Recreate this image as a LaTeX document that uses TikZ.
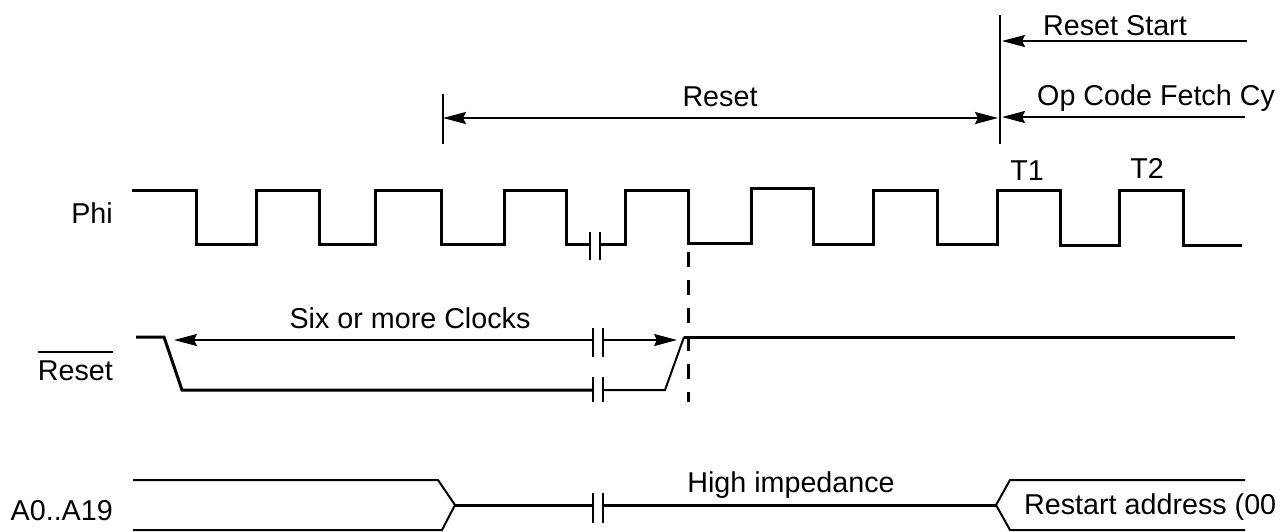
\documentclass[tikz,border=0pt]{standalone}
\usepackage{fontspec}
\setmainfont{Liberation Sans}
\usetikzlibrary{arrows.meta}

\begin{document}
\begin{tikzpicture}[x=1pt, y=-1pt,
  wave/.style={line width=3pt, line join=miter},
  bus/.style={line width=2pt},
  brk/.style={line width=2pt},
  vmarker/.style={line width=2.5pt},
  lbl/.style={font=\fontsize{28.7pt}{33pt}\selectfont, inner sep=0pt},
  arr/.style={line width=2pt, -{Stealth[length=23pt,width=12pt,inset=3pt]}},
  rarr/.style={line width=2pt, {Stealth[length=23pt,width=12pt,inset=3pt]}-},
  darr/.style={line width=2pt, {Stealth[length=23pt,width=12pt,inset=3pt]}-{Stealth[length=23pt,width=12pt,inset=3pt]}}
]
\clip (0,0) rectangle (1281,531);

% signal names
\node[lbl, anchor=base east] (philbl) at (113,223) {Phi};
\node[lbl, anchor=base east] (rstlbl) at (113,380) {Reset};
\draw[line width=1.5pt] ([yshift=8pt]rstlbl.north west) -- ([yshift=8pt]rstlbl.north east);
\node[lbl, anchor=base east] (adrlbl) at (113,520) {A0..A19};

% Phi clock
\draw[wave] (132,190) -- (196,190) -- (196,244) -- (256,244) -- (256,190) -- (319,190)
  -- (319,244) -- (375,244) -- (375,190) -- (441,190) -- (441,244) -- (504,244)
  -- (504,190) -- (566,190) -- (566,244) -- (590,244);
\draw[wave] (600,244) -- (625,244) -- (625,190) -- (688,190) -- (688,243) -- (751,243)
  -- (751,188) -- (813,188) -- (813,244) -- (873,244) -- (873,190) -- (937,190)
  -- (937,244) -- (997,244) -- (997,190) -- (1060,190) -- (1060,245) -- (1119,245)
  -- (1119,190) -- (1183,190) -- (1183,245) -- (1242,245);
\draw[brk] (590,232) -- (590,260);
\draw[brk] (600,232) -- (600,260);
\node[lbl, anchor=base] (t1) at (1027,180) {T1};
\node[lbl, anchor=base] (t2) at (1147,178) {T2};

% dashed marker
\coordinate (dashtop) at (688,252);
\coordinate (dashbot) at (688,402);
\draw[line width=3pt, dash pattern=on 15pt off 13pt] (dashtop) -- (dashbot);

% Reset signal
\draw[wave] (136,337) -- (164,337) -- (182,390) -- (593,390);
\draw[line width=2pt] (603,390) -- (665,390) -- (684,337);
\draw[wave] (684,337) -- (1235,337);
\draw[brk] (593,377) -- (593,402);
\draw[brk] (603,377) -- (603,402);

% six clocks
\coordinate (sixL) at (174,340);
\coordinate (sixbA) at (593,340);
\coordinate (sixbB) at (603,340);
\coordinate (sixR) at (677,340);
\draw[rarr] (sixL) -- (sixbA);
\draw[arr] (sixbB) -- (sixR);
\draw[brk] (593,328) -- (593,357);
\draw[brk] (603,328) -- (603,357);
\node[lbl, anchor=base] (sixlbl) at (410,328) {Six or more Clocks};

% reset interval
\draw[vmarker] (443,94) -- (443,144);
\draw[vmarker] (1000,15) -- (1000,144);
\coordinate (rstL) at (443,118);
\coordinate (rstR) at (998,118);
\draw[darr] (rstL) -- (rstR);
\node[lbl, anchor=base] (rsttxt) at (720,106) {Reset};

% reset start / op code fetch
\coordinate (rsA) at (1247,41);
\coordinate (rsB) at (1002,41);
\draw[arr] (rsA) -- (rsB);
\node[lbl, anchor=base west] (rstart) at (1043,35) {Reset Start};
\coordinate (ocA) at (1245,117);
\coordinate (ocB) at (1002,117);
\draw[arr] (ocA) -- (ocB);
\node[lbl, anchor=base west] (opcode) at (1037,105) {Op Code Fetch Cy};

% address bus
\draw[bus] (133,480) -- (438,480) -- (455,505);
\draw[bus] (133,530) -- (442,530) -- (455,505);
\draw[wave] (455,505) -- (593,505);
\draw[wave] (603,505) -- (996,505);
\draw[brk] (593,493) -- (593,523);
\draw[brk] (603,493) -- (603,523);
\draw[bus] (996,505) -- (1010,480) -- (1245,480);
\draw[bus] (996,505) -- (1010,530) -- (1245,530);
\node[lbl, anchor=base] (hiz) at (791,492) {High impedance};
\node[lbl, anchor=base west] (rsadr) at (1024,514) {Restart address (00};
\end{tikzpicture}
\end{document}
